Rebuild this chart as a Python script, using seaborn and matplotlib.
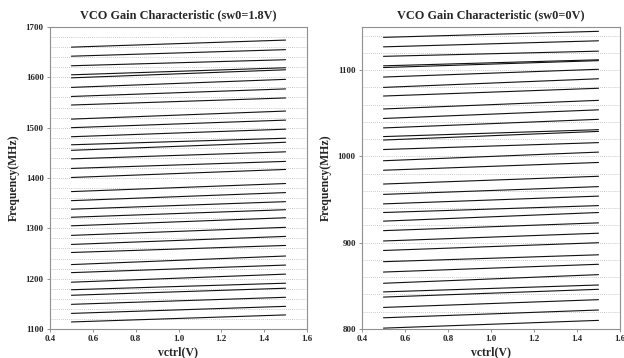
import numpy as np
import pandas as pd
import matplotlib
matplotlib.use('Agg')
import matplotlib.pyplot as plt
import seaborn as sns

# -------------------------
# Data
# -------------------------
vctrl = [0.5, 1.5]

# sw0 = 1.8V : frequency (MHz) at vctrl=0.5 and vctrl=1.5
hi_start = [1660, 1642, 1623, 1605, 1599, 1580, 1562, 1545, 1517, 1500, 1482, 1466,
            1455, 1438, 1419, 1401, 1373, 1355, 1338, 1322, 1305, 1286, 1268, 1252,
            1228, 1212, 1193, 1178, 1167, 1149, 1131, 1114]
hi_end = [1674, 1655, 1635, 1619, 1615, 1596, 1577, 1559, 1533, 1515, 1497, 1479,
          1471, 1452, 1433, 1417, 1389, 1371, 1353, 1337, 1321, 1302, 1284, 1266,
          1245, 1227, 1209, 1191, 1181, 1163, 1145, 1128]

# sw0 = 0V
lo_start = [1138, 1127, 1116, 1105, 1103, 1092, 1080, 1070, 1055, 1044, 1033, 1023,
            1019, 1008, 995, 984, 968, 956, 945, 935, 925, 914, 902, 891,
            878, 866, 853, 843, 837, 825, 813, 801]
lo_end = [1145, 1134, 1122, 1112, 1111, 1101, 1090, 1079, 1065, 1054, 1043, 1031,
          1029, 1016, 1005, 993, 977, 965, 954, 943, 935, 923, 911, 900,
          886, 875, 863, 851, 846, 834, 822, 810]

titles = ["VCO Gain Characteristic (sw0=1.8V)", "VCO Gain Characteristic (sw0=0V)"]


def to_long(starts, ends):
    rows = []
    for i, (a, b) in enumerate(zip(starts, ends)):
        rows.append({"curve": i, "vctrl": vctrl[0], "freq": a})
        rows.append({"curve": i, "vctrl": vctrl[1], "freq": b})
    return pd.DataFrame(rows)


def main():
    sns.set_style("white")
    plt.rcParams['font.family'] = ['Liberation Serif', 'DejaVu Serif']
    plt.rcParams['font.weight'] = 'bold'

    fig = plt.figure(figsize=(6.24, 3.58), dpi=100)
    ax_l = fig.add_axes([50 / 624, 29 / 358, 257 / 624, 302 / 358])
    ax_r = fig.add_axes([362 / 624, 29 / 358, 258 / 624, 302 / 358])

    panels = [
        (ax_l, to_long(hi_start, hi_end), (1100, 1700)),
        (ax_r, to_long(lo_start, lo_end), (800, 1150)),
    ]

    for (ax, df, ylim), title in zip(panels, titles):
        # dotted grid every 20 MHz
        for g in np.arange(ylim[0] + 20, ylim[1], 20):
            ax.axhline(g, color='#b8b8b8', lw=0.6, ls=(0, (1, 1.5)), zorder=0)

        sns.lineplot(data=df, x="vctrl", y="freq", units="curve", estimator=None,
                     color="#111111", lw=0.8, ax=ax)

        ax.set_xlim(0.4, 1.6)
        ax.set_ylim(*ylim)
        ax.set_xticks(np.arange(0.4, 1.61, 0.2))
        ax.set_xticklabels([f"{t:.1f}" for t in np.arange(0.4, 1.61, 0.2)])
        ax.set_yticks(np.arange(ylim[0], ylim[1] + 1, 100))
        ax.tick_params(axis='both', labelsize=6.5, length=2.5, width=0.6,
                       color='#808080', pad=2, left=True, bottom=True)
        for t in ax.get_xticklabels() + ax.get_yticklabels():
            t.set_fontweight('bold')

        for sp in ax.spines.values():
            sp.set_color('#909090')
            sp.set_linewidth(0.8)

        ax.set_title(title, fontsize=8.8, fontweight='bold', pad=6)
        ax.set_xlabel("vctrl(V)", fontsize=8.5, fontweight='bold', labelpad=2.5)
        ax.set_ylabel("Frequency(MHz)", fontsize=8.5, fontweight='bold', labelpad=4)

    fig.savefig("out.png", dpi=100)
    plt.close(fig)


if __name__ == "__main__":
    main()
